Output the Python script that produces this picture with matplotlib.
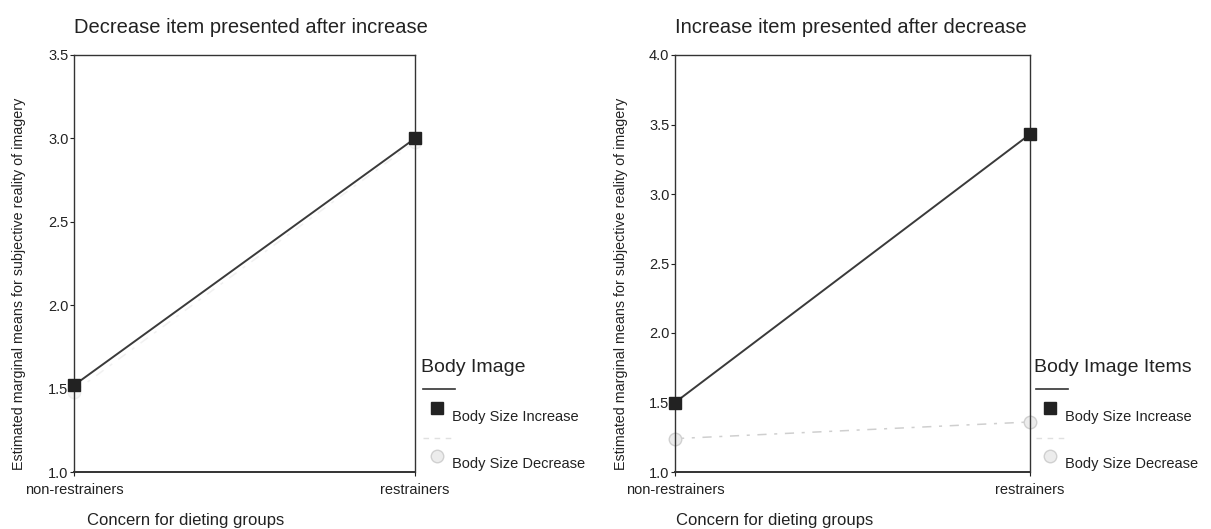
import matplotlib.pyplot as plt
from matplotlib.lines import Line2D

plt.rcParams['font.family'] = ['Liberation Sans', 'DejaVu Sans']

# data
groups = ['non-restrainers', 'restrainers']
left_increase = [1.52, 3.00]
left_decrease = [1.48, 2.98]
right_increase = [1.50, 3.43]
right_decrease = [1.24, 1.36]

W, H = 1211, 529
fig = plt.figure(figsize=(W / 100, H / 100), dpi=100)


def fx(px):
    return px / W


def fy(py):
    return 1 - py / H


panels = [
    dict(rect=[fx(74), fy(472), fx(415) - fx(74), fy(55) - fy(472)],
         ylim=(1.0, 3.5), ticks=[1.0, 1.5, 2.0, 2.5, 3.0, 3.5],
         inc=left_increase, dec=left_decrease,
         dec_color='#f1f1f1', dec_mec='#eeeeee', dec_mfc='#f6f6f6',
         title='Decrease item presented after increase', leg_title='Body Image',
         leg_x=421, xlabel_x=87, ylab_x=-0.142),
    dict(rect=[fx(675), fy(472), fx(1030) - fx(675), fy(55) - fy(472)],
         ylim=(1.0, 4.0), ticks=[1.0, 1.5, 2.0, 2.5, 3.0, 3.5, 4.0],
         inc=right_increase, dec=right_decrease,
         dec_color='#cfcfcf', dec_mec='#d0d0d0', dec_mfc='#ececec',
         title='Increase item presented after decrease', leg_title='Body Image Items',
         leg_x=1034, xlabel_x=676, ylab_x=-0.132),
]

for p in panels:
    ax = fig.add_axes(p['rect'])
    x = range(len(groups))
    ax.plot(x, p['dec'], color=p['dec_color'], lw=1.1, ls=(0, (6, 5, 2, 5)),
            marker='o', ms=9, mfc=p['dec_mfc'], mec=p['dec_mec'], clip_on=False, zorder=2)
    ax.plot(x, p['inc'], color='#3a3a3a', lw=1.4, marker='s', ms=8,
            mfc='#222222', mec='#222222', clip_on=False, zorder=3)
    ax.set_xlim(0, 1)
    ax.set_ylim(*p['ylim'])
    ax.set_yticks(p['ticks'])
    ax.set_yticklabels([f'{t:.1f}' for t in p['ticks']])
    ax.set_xticks([0, 1])
    ax.set_xticklabels(groups)
    ax.tick_params(axis='y', length=3, width=0.8, pad=1, labelsize=10.5, colors='#222222')
    ax.tick_params(axis='x', length=3, width=0.8, pad=5, labelsize=10.5, colors='#222222')
    for s in ax.spines.values():
        s.set_color('#333333')
        s.set_linewidth(1.0)
    ax.spines['bottom'].set_linewidth(1.4)
    ax.set_ylabel('Estimated marginal means for subjective reality of imagery',
                  fontsize=10.3, color='#222222')
    ax.yaxis.set_label_coords(p['ylab_x'], 0.45)
    ax.set_title(p['title'], loc='left', fontsize=14.5, color='#222222', pad=16)
    fig.text(fx(p['xlabel_x']), fy(520), 'Concern for dieting groups',
             fontsize=12, color='#222222', ha='left', va='center')

    # legend drawn by hand to match the layout
    lx = p['leg_x']
    fig.text(fx(lx), fy(368), p['leg_title'], fontsize=14, color='#222222',
             ha='left', va='center')
    fig.add_artist(Line2D([fx(lx + 2), fx(lx + 34)], [fy(389), fy(389)],
                          color='#333333', lw=1.2, transform=fig.transFigure))
    fig.add_artist(Line2D([fx(lx + 16)], [fy(408)], marker='s', ms=8, color='#222222',
                          transform=fig.transFigure))
    fig.text(fx(lx + 31), fy(417), 'Body Size Increase', fontsize=10.5, color='#222222',
             ha='left', va='center')
    fig.add_artist(Line2D([fx(lx + 2), fx(lx + 34)], [fy(438), fy(438)],
                          color='#e0e0e0', lw=1.0, ls=(0, (4, 4)),
                          transform=fig.transFigure))
    fig.add_artist(Line2D([fx(lx + 16)], [fy(456)], marker='o', ms=9, mfc='#ececec',
                          mec='#d0d0d0', transform=fig.transFigure))
    fig.text(fx(lx + 31), fy(464), 'Body Size Decrease', fontsize=10.5, color='#222222',
             ha='left', va='center')

fig.savefig('out.png', dpi=100, facecolor='white')
